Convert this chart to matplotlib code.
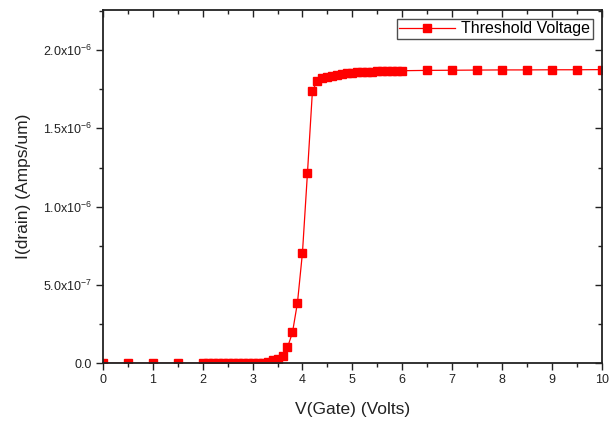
import numpy as np
import matplotlib
matplotlib.use("Agg")
import matplotlib.pyplot as plt
from matplotlib.ticker import MultipleLocator

plt.rcParams['font.family'] = ['Liberation Sans', 'DejaVu Sans']

# gate voltage (V)
v_gate = [0.0, 0.5, 1.0, 1.5,
          2.0, 2.1, 2.2, 2.3, 2.4, 2.5, 2.6, 2.7, 2.8, 2.9,
          3.0, 3.1, 3.2, 3.3, 3.4, 3.5, 3.6, 3.7, 3.8, 3.9,
          4.0, 4.1, 4.2, 4.3, 4.4, 4.5, 4.6, 4.7, 4.8, 4.9,
          5.0, 5.1, 5.2, 5.3, 5.4, 5.5, 5.6, 5.7, 5.8, 5.9,
          6.0, 6.5, 7.0, 7.5, 8.0, 8.5, 9.0, 9.5, 10.0]

# drain current (A/um)
i_drain = [0.0, 0.0, 0.0, 0.0,
           0.0, 0.0, 0.0, 0.0, 0.0, 0.0, 0.0, 0.0, 0.0, 1e-9,
           2e-9, 3e-9, 5e-9, 1.0e-8, 1.8e-8, 2.8e-8, 4.7e-8, 1.01e-7, 1.97e-7, 3.87e-7,
           7.06e-7, 1.213e-6, 1.739e-6, 1.805e-6, 1.820e-6, 1.830e-6, 1.837e-6, 1.843e-6, 1.848e-6, 1.852e-6,
           1.855e-6, 1.857e-6, 1.859e-6, 1.861e-6, 1.862e-6, 1.863e-6, 1.864e-6, 1.865e-6, 1.866e-6, 1.867e-6,
           1.868e-6, 1.870e-6, 1.871e-6, 1.872e-6, 1.873e-6, 1.873e-6, 1.874e-6, 1.874e-6, 1.875e-6]

y_ticks = [0.0, 5e-7, 1e-6, 1.5e-6, 2e-6]
y_ticklabels = ['0.0', r'$\mathregular{5.0x10^{-7}}$', r'$\mathregular{1.0x10^{-6}}$',
                r'$\mathregular{1.5x10^{-6}}$', r'$\mathregular{2.0x10^{-6}}$']

fig = plt.figure(figsize=(6.14, 4.24), dpi=100)
ax = fig.add_axes([0.1678, 0.1432, 0.812, 0.833])

ax.plot(v_gate, i_drain, color='#ff0000', lw=0.9, marker='s', ms=5.3,
        mec='#ff0000', mfc='#ff0000', label='Threshold Voltage')

ax.set_xlim(0, 10)
ax.set_ylim(0, 2.255e-6)
ax.xaxis.set_major_locator(MultipleLocator(1))
ax.xaxis.set_minor_locator(MultipleLocator(0.5))
ax.set_yticks(y_ticks)
ax.set_yticklabels(y_ticklabels)
ax.yaxis.set_minor_locator(MultipleLocator(2.5e-7))

ax.tick_params(which='both', direction='out', top=False, right=False,
               labelsize=9, colors='#222222', width=1.0)
ax.tick_params(which='major', length=5, pad=3)
ax.tick_params(which='minor', length=3)

# mirrored axes with inward ticks on top / right
sec_x = ax.secondary_xaxis('top')
sec_x.xaxis.set_major_locator(MultipleLocator(1))
sec_x.xaxis.set_minor_locator(MultipleLocator(0.5))
sec_x.tick_params(which='both', direction='in', labeltop=False, width=1.0, colors='#222222')
sec_x.tick_params(which='major', length=5)
sec_x.tick_params(which='minor', length=3)
sec_y = ax.secondary_yaxis('right')
sec_y.set_yticks(y_ticks)
sec_y.yaxis.set_minor_locator(MultipleLocator(2.5e-7))
sec_y.tick_params(which='both', direction='in', labelright=False, width=1.0, colors='#222222')
sec_y.tick_params(which='major', length=5)
sec_y.tick_params(which='minor', length=3)
for s in sec_x.spines.values():
    s.set_visible(False)
for s in sec_y.spines.values():
    s.set_visible(False)

for s in ax.spines.values():
    s.set_linewidth(1.3)
    s.set_color('#222222')

ax.set_xlabel('V(Gate) (Volts)', fontsize=12.5, color='#222222', labelpad=11)
ax.set_ylabel('I(drain) (Amps/um)', fontsize=12.5, color='#222222', labelpad=8)

leg = ax.legend(loc='upper right', fontsize=11.5, frameon=True, fancybox=False,
                edgecolor='#222222', handlelength=3.5, borderpad=0.15,
                borderaxespad=0.55, handletextpad=0.4)
leg.get_frame().set_linewidth(1.0)

fig.savefig('out.png', dpi=100)
